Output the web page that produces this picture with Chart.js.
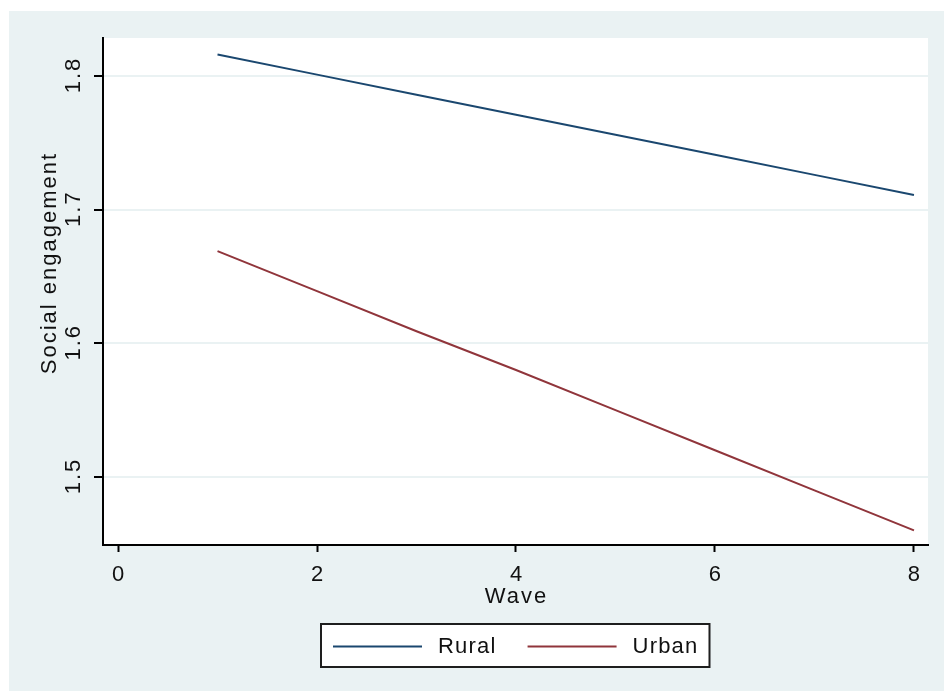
<!DOCTYPE html>
<html>
<head>
<meta charset="utf-8">
<script src="https://cdn.jsdelivr.net/npm/chart.js@4/dist/chart.umd.min.js"></script>
<style>
  html, body { margin: 0; padding: 0; background: #ffffff; }
  #wrap { position: absolute; left: 0; top: 0; width: 944px; height: 691px; }
  canvas { display: block; }
</style>
</head>
<body>
<div id="wrap"><canvas id="c" width="944" height="691"></canvas></div>
<script>
// ---- data ----
const waves = [1, 2, 3, 4, 5, 6, 7, 8];
const ruralValues = [1.816, 1.801, 1.786, 1.771, 1.756, 1.741, 1.726, 1.711];
const urbanValues = [1.669, 1.639, 1.609, 1.580, 1.550, 1.520, 1.490, 1.460];
const seriesNames = ["Rural", "Urban"];
const xTickValues = [0, 2, 4, 6, 8];
const yTickValues = [1.5, 1.6, 1.7, 1.8];
const xTitle = "Wave";
const yTitle = "Social engagement";

const FONT = "22px 'Liberation Sans', Arial, sans-serif";
const TEXT = "#111111";
const BG = "#eaf2f3";

function pts(vals) { return waves.map((w, i) => ({ x: w, y: vals[i] })); }

const decor = {
  id: 'decor',
  beforeDraw(chart) {
    const ctx = chart.ctx;
    const a = chart.chartArea;
    ctx.save();
    ctx.fillStyle = '#ffffff';
    ctx.fillRect(0, 0, chart.width, chart.height);
    ctx.fillStyle = BG;
    ctx.fillRect(9, 11, chart.width - 9, chart.height - 11);
    ctx.fillStyle = '#ffffff';
    ctx.fillRect(a.left, a.top, a.right - a.left, a.bottom - a.top);
    ctx.restore();
  },
  afterDraw(chart) {
    const ctx = chart.ctx;
    const a = chart.chartArea;
    const ys = chart.scales.y;
    ctx.save();
    ctx.font = FONT;
    ctx.fillStyle = TEXT;
    ctx.letterSpacing = '2px';
    // y tick labels, rotated
    yTickValues.forEach(v => {
      const py = ys.getPixelForValue(v);
      ctx.save();
      ctx.translate(74, py);
      ctx.rotate(-Math.PI / 2);
      ctx.textAlign = 'center';
      ctx.textBaseline = 'middle';
      ctx.fillText(String(v), 1, 0);
      ctx.restore();
    });
    // y title
    ctx.save();
    ctx.translate(50, 264);
    ctx.rotate(-Math.PI / 2);
    ctx.textAlign = 'center';
    ctx.textBaseline = 'middle';
    ctx.fillText(yTitle, 1, 0);
    ctx.restore();
    // x title
    ctx.textAlign = 'center';
    ctx.textBaseline = 'middle';
    ctx.fillText(xTitle, (a.left + a.right) / 2 + 1, 597);

    // legend
    ctx.letterSpacing = '1.2px';
    const ds = chart.data.datasets;
    const lineLen = 89, padL = 12, padR = 11, gapText = 16, gapItem = 31;
    const widths = ds.map(d => ctx.measureText(d.label).width);
    let total = padL + padR;
    ds.forEach((d, i) => { total += lineLen + gapText + widths[i] + (i < ds.length - 1 ? gapItem : 0); });
    const bx = Math.round((a.left + a.right) / 2 - total / 2);
    const by = 624, bh = 43;
    ctx.fillStyle = '#ffffff';
    ctx.fillRect(bx, by, total, bh);
    ctx.lineWidth = 2;
    ctx.strokeStyle = '#1e1e1e';
    ctx.strokeRect(bx, by, total, bh);
    let cx = bx + padL;
    const cy = by + bh / 2 + 1;
    ds.forEach((d, i) => {
      ctx.strokeStyle = d.borderColor;
      ctx.lineWidth = 2;
      ctx.beginPath();
      ctx.moveTo(cx, cy);
      ctx.lineTo(cx + lineLen, cy);
      ctx.stroke();
      cx += lineLen + gapText;
      ctx.fillStyle = TEXT;
      ctx.textAlign = 'left';
      ctx.textBaseline = 'middle';
      ctx.fillText(d.label, cx, cy);
      cx += widths[i] + gapItem;
    });
    ctx.restore();
  }
};

new Chart(document.getElementById('c'), {
  type: 'line',
  data: {
    datasets: [
      { label: seriesNames[0], data: pts(ruralValues), borderColor: '#1a476f', borderWidth: 2, pointRadius: 0, tension: 0, fill: false },
      { label: seriesNames[1], data: pts(urbanValues), borderColor: '#90353b', borderWidth: 2, pointRadius: 0, tension: 0, fill: false }
    ]
  },
  options: {
    responsive: false,
    animation: false,
    devicePixelRatio: 1,
    layout: { padding: { left: 0, top: 38, right: 16, bottom: 0 } },
    plugins: { legend: { display: false }, tooltip: { enabled: false }, title: { display: false } },
    scales: {
      x: {
        type: 'linear',
        min: -0.151,
        max: 8.141,
        afterBuildTicks(s) { s.ticks = xTickValues.map(v => ({ value: v })); },
        afterFit(s) { s.height = 146; },
        grid: { drawOnChartArea: false, drawTicks: true, tickLength: 7, tickColor: '#000', tickWidth: 2 },
        border: { display: true, color: '#000', width: 2 },
        ticks: { font: { family: "'Liberation Sans', Arial, sans-serif", size: 22 }, color: TEXT, padding: 10, maxRotation: 0, autoSkip: false }
      },
      y: {
        type: 'linear',
        min: 1.4491,
        max: 1.8284,
        afterBuildTicks(s) { s.ticks = yTickValues.map(v => ({ value: v })); },
        afterFit(s) { s.width = 103; },
        grid: { drawOnChartArea: true, color: BG, lineWidth: 2, drawTicks: true, tickLength: 9, tickColor: '#000', tickWidth: 2 },
        border: { display: true, color: '#000', width: 2 },
        ticks: { display: false }
      }
    }
  },
  plugins: [decor]
});
</script>
</body>
</html>
